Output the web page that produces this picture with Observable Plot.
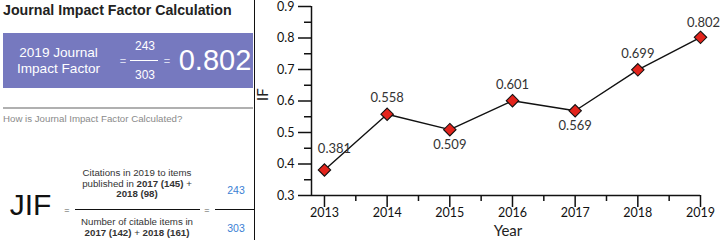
<!DOCTYPE html>
<html>
<head>
<meta charset="utf-8">
<script src="https://cdn.jsdelivr.net/npm/d3@7"></script>
<script src="https://cdn.jsdelivr.net/npm/@observablehq/plot@0.6"></script>
<style>
  html, body { margin: 0; padding: 0; background: #fff; }
  #wrap { position: relative; width: 720px; height: 240px; overflow: hidden; background: #fff; }
  #wrap svg { position: absolute; left: 0; top: 0; }
  .t { position: absolute; white-space: nowrap; line-height: 1; font-family: "Liberation Sans", Arial, sans-serif; }
  .c { transform: translate(-50%, -50%); text-align: center; }
  .l { transform: translate(0, -50%); }
  .box { position: absolute; }
</style>
</head>
<body>
<div id="wrap"></div>
<script>
// ---- data ----
const years = [2013, 2014, 2015, 2016, 2017, 2018, 2019];
const impactFactors = [0.381, 0.558, 0.509, 0.601, 0.569, 0.699, 0.802];
const yTicks = [0.3, 0.4, 0.5, 0.6, 0.7, 0.8, 0.9];
const yMinorTicks = [0.35, 0.45, 0.55, 0.65, 0.75, 0.85];
const xMinorTicks = [2013.5, 2014.5, 2015.5, 2016.5, 2017.5, 2018.5];
const jifYear = 2019;
const pubYears = [2017, 2018];
const citationsByYear = [145, 98];
const citableItemsByYear = [142, 161];

const citations = d3.sum(citationsByYear);
const citableItems = d3.sum(citableItemsByYear);
const jif = (citations / citableItems).toFixed(3);

const wrap = document.getElementById("wrap");

// ---- left panel (HTML) ----
function box(x, y, w, h, bg) {
  const d = document.createElement("div");
  d.className = "box";
  Object.assign(d.style, {left: x + "px", top: y + "px", width: w + "px", height: h + "px", background: bg});
  wrap.appendChild(d);
}
function txt(html, x, y, style, cls = "c") {
  const d = document.createElement("div");
  d.className = "t " + cls;
  d.innerHTML = html;
  d.style.left = x + "px";
  d.style.top = y + "px";
  Object.assign(d.style, style || {});
  wrap.appendChild(d);
}

txt("Journal Impact Factor Calculation", 3, 10, {fontSize: "14.2px", fontWeight: "bold", color: "#222"}, "l");
box(3, 33, 250, 55, "#7679bf");
txt(`${jifYear} Journal`, 58.5, 52.5, {fontSize: "13.6px", color: "#fff"});
txt("Impact Factor", 58.5, 68.5, {fontSize: "13.6px", color: "#fff"});
txt("=", 123, 61, {fontSize: "11px", color: "#d8daf0"});
txt(String(citations), 145, 45.5, {fontSize: "12px", color: "#fff"});
box(130, 59.5, 28, 1.5, "#fff");
txt(String(citableItems), 145, 75, {fontSize: "12px", color: "#fff"});
txt("=", 167, 61, {fontSize: "11px", color: "#d8daf0"});
txt(jif, 215, 60, {fontSize: "29px", color: "#fff"});

box(3, 107, 250, 1.5, "#b0b0b0");
txt("How is Journal Impact Factor Calculated?", 3, 118.5, {fontSize: "9.7px", color: "#8a8a8a"}, "l");

txt("JIF", 30.5, 205, {fontSize: "30px", color: "#111"});
txt("=", 67, 209.5, {fontSize: "9px", color: "#555"});
const numStyle = {fontSize: "9.7px", color: "#333"};
txt(`Citations in ${jifYear} to items`, 137, 173, numStyle);
txt(`published in <b>${pubYears[0]} (${citationsByYear[0]})</b> +`, 137, 183.5, numStyle);
txt(`<b>${pubYears[1]} (${citationsByYear[1]})</b>`, 137, 194, numStyle);
box(75, 208.5, 125, 1.5, "#111");
txt("Number of citable items in", 137, 222, numStyle);
txt(`<b>${pubYears[0]} (${citableItemsByYear[0]})</b> + <b>${pubYears[1]} (${citableItemsByYear[1]})</b>`, 137, 232.5, numStyle);
txt("=", 207, 209.5, {fontSize: "9px", color: "#555"});
box(215, 208.5, 40, 1.5, "#111");
txt(String(citations), 236, 190, {fontSize: "10.5px", color: "#3b7fd4"});
txt(String(citableItems), 236, 228, {fontSize: "10.5px", color: "#3b7fd4"});
// divider between the two panels
box(253.5, 0, 1.3, 240, "#111");

// ---- chart (Plot) ----
const data = years.map((year, i) => ({year, value: impactFactors[i]}));
const x0 = 2012.793;
const last = data.length - 1;
const isLocalMin = (i) => i > 0 && i < last &&
  data[i].value < data[i - 1].value && data[i].value < data[i + 1].value;
const aboveMid = data.filter((d, i) => i > 0 && i < last && !isLocalMin(i));
const below = data.filter((d, i) => isLocalMin(i));
const fmt = (d) => d.value.toFixed(3);

const font = "Lato, 'Open Sans', sans-serif";
const labelStyle = {x: "year", y: "value", text: fmt, fontSize: 13, fill: "#333"};
const chart = Plot.plot({
  width: 720,
  height: 240,
  marginLeft: 311,
  marginRight: 20,
  marginTop: 6,
  marginBottom: 45,
  style: {fontFamily: font, background: "transparent", color: "#111"},
  x: {domain: [x0, 2019]},
  y: {domain: [0.3, 0.9]},
  marks: [
    Plot.axisY(yTicks, {tickSize: 13, tickPadding: 4, tickFormat: (d) => d.toFixed(1), label: null, fontSize: 12.5, strokeWidth: 1.5, stroke: "#111"}),
    Plot.axisY(yMinorTicks, {tickSize: 7, tickFormat: () => "", label: null, strokeWidth: 1.5, stroke: "#111"}),
    Plot.axisX(years, {tickSize: 12, tickPadding: 1, tickFormat: (d) => String(d), label: null, fontSize: 12.5, strokeWidth: 1.5, stroke: "#111"}),
    Plot.axisX(xMinorTicks, {tickSize: 6, tickFormat: () => "", label: null, strokeWidth: 1.5, stroke: "#111"}),
    Plot.ruleY([0.3], {stroke: "#111", strokeWidth: 1.5}),
    Plot.ruleX([x0], {stroke: "#111", strokeWidth: 1.5}),
    Plot.line(data, {x: "year", y: "value", stroke: "#111", strokeWidth: 1.4}),
    Plot.dot(data, {x: "year", y: "value", symbol: "diamond2", r: 5.6, fill: "#e3241c", stroke: "#111", strokeWidth: 1.1}),
    Plot.text([data[0]], {...labelStyle, dy: -21, dx: 10}),
    Plot.text(aboveMid, {...labelStyle, dy: -16}),
    Plot.text([data[last]], {...labelStyle, dy: -15, dx: 3}),
    Plot.text(below, {...labelStyle, dy: 15}),
    Plot.text(["Year"], {frameAnchor: "bottom", dy: 40, dx: 2, text: (d) => d, fontSize: 15, fill: "#222"}),
    Plot.text(["IF"], {frameAnchor: "left", dx: -48, text: (d) => d, rotate: -90, fontSize: 15, fill: "#222"})
  ]
});
wrap.appendChild(chart);
</script>
</body>
</html>
